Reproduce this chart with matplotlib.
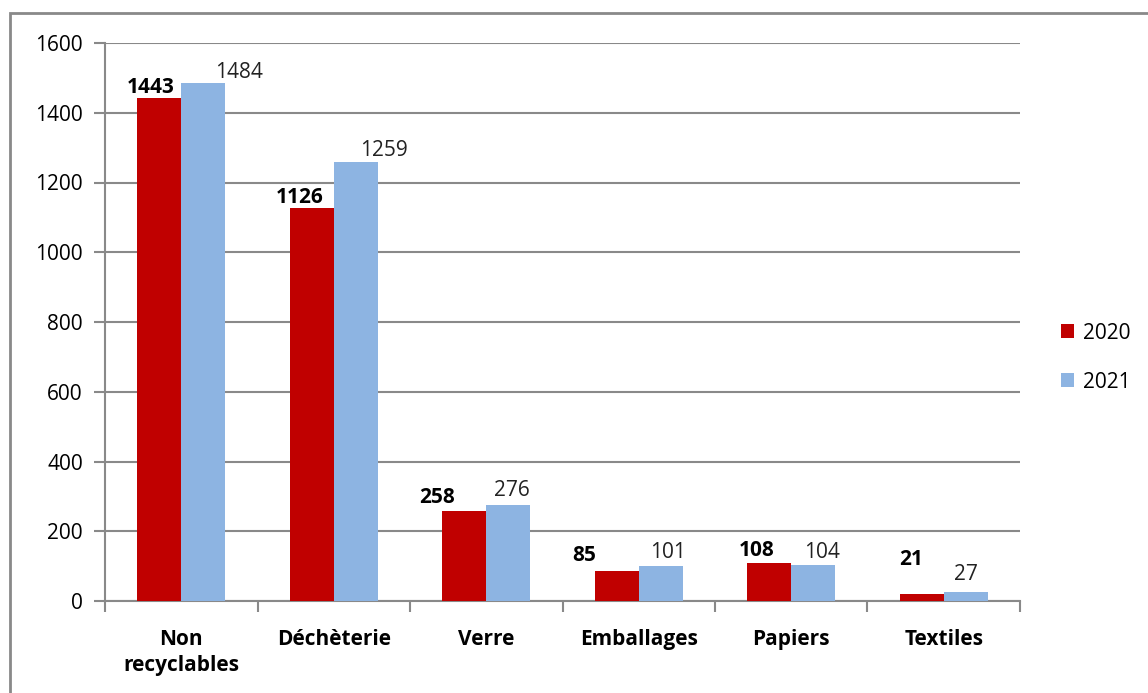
import numpy as np
import matplotlib.pyplot as plt
from matplotlib.patches import Rectangle

categories = ['Non\nrecyclables', 'Déchèterie', 'Verre', 'Emballages', 'Papiers', 'Textiles']
values_2020 = [1443, 1126, 258, 85, 108, 21]
values_2021 = [1484, 1259, 276, 101, 104, 27]
years = ['2020', '2021']

# label nudges in pixels (x, y), to mimic the original placement
off_2020 = [(-9, 0), (-12, 0), (-27, 3), (-33, 5), (-13, 2), (-11, 24)]
off_2021 = [(36, 0), (28, 1), (4, 4), (7, 3), (9, 2), (0, 7)]

plt.rcParams['font.family'] = ['Open Sans', 'DejaVu Sans']
grey = '#898989'
red = '#C00000'
blue = '#8DB4E2'
fs = 15

fig = plt.figure(figsize=(11.48, 6.93), dpi=100)
ax = fig.add_axes([105/1148, 92/693, 915/1148, 558/693])

x = np.arange(len(categories))
w = 0.288
ax.bar(x - w/2, values_2020, w, color=red, label=years[0], zorder=3)
ax.bar(x + w/2, values_2021, w, color=blue, label=years[1], zorder=3)

for i in range(len(categories)):
    ax.annotate(str(values_2020[i]), (x[i] - w/2, values_2020[i]), xytext=off_2020[i],
                textcoords='offset pixels', ha='center', va='bottom',
                fontsize=fs, fontweight='bold', color='black')
    ax.annotate(str(values_2021[i]), (x[i] + w/2, values_2021[i]), xytext=off_2021[i],
                textcoords='offset pixels', ha='center', va='bottom',
                fontsize=fs, color='#222222')

ax.set_xlim(-0.5, len(categories) - 0.5)
ax.set_ylim(0, 1600)
ax.set_yticks(np.arange(0, 1601, 200))
ax.yaxis.grid(True, color=grey, linewidth=1.5, zorder=0)
ax.set_axisbelow(True)

ax.set_xticks(x)
ax.set_xticklabels(categories, fontsize=fs, fontweight='bold', linespacing=1.3)
ax.set_xticks(np.arange(-0.5, len(categories)), minor=True)
ax.tick_params(axis='x', which='major', length=0, pad=20)
ax.tick_params(axis='x', which='minor', length=8, width=1.5, color=grey)
ax.tick_params(axis='y', length=8, width=1.5, color=grey, labelsize=fs, pad=8)

for s in ['top', 'right']:
    ax.spines[s].set_visible(False)
for s in ['left', 'bottom']:
    ax.spines[s].set_color(grey)
    ax.spines[s].set_linewidth(1.5)

ax.legend(loc='center left', bbox_to_anchor=(1042/1148, 0.484), bbox_transform=fig.transFigure,
          frameon=False, fontsize=fs, handlelength=0.65, handleheight=0.65,
          handletextpad=0.4, labelspacing=1.35)

# outer chart border
fig.patches.append(Rectangle((10/1148, -0.05), 1.2, (693 - 13)/693 + 0.05,
                             transform=fig.transFigure, fill=False,
                             edgecolor=grey, linewidth=2))

fig.savefig('out.png', dpi=100)
